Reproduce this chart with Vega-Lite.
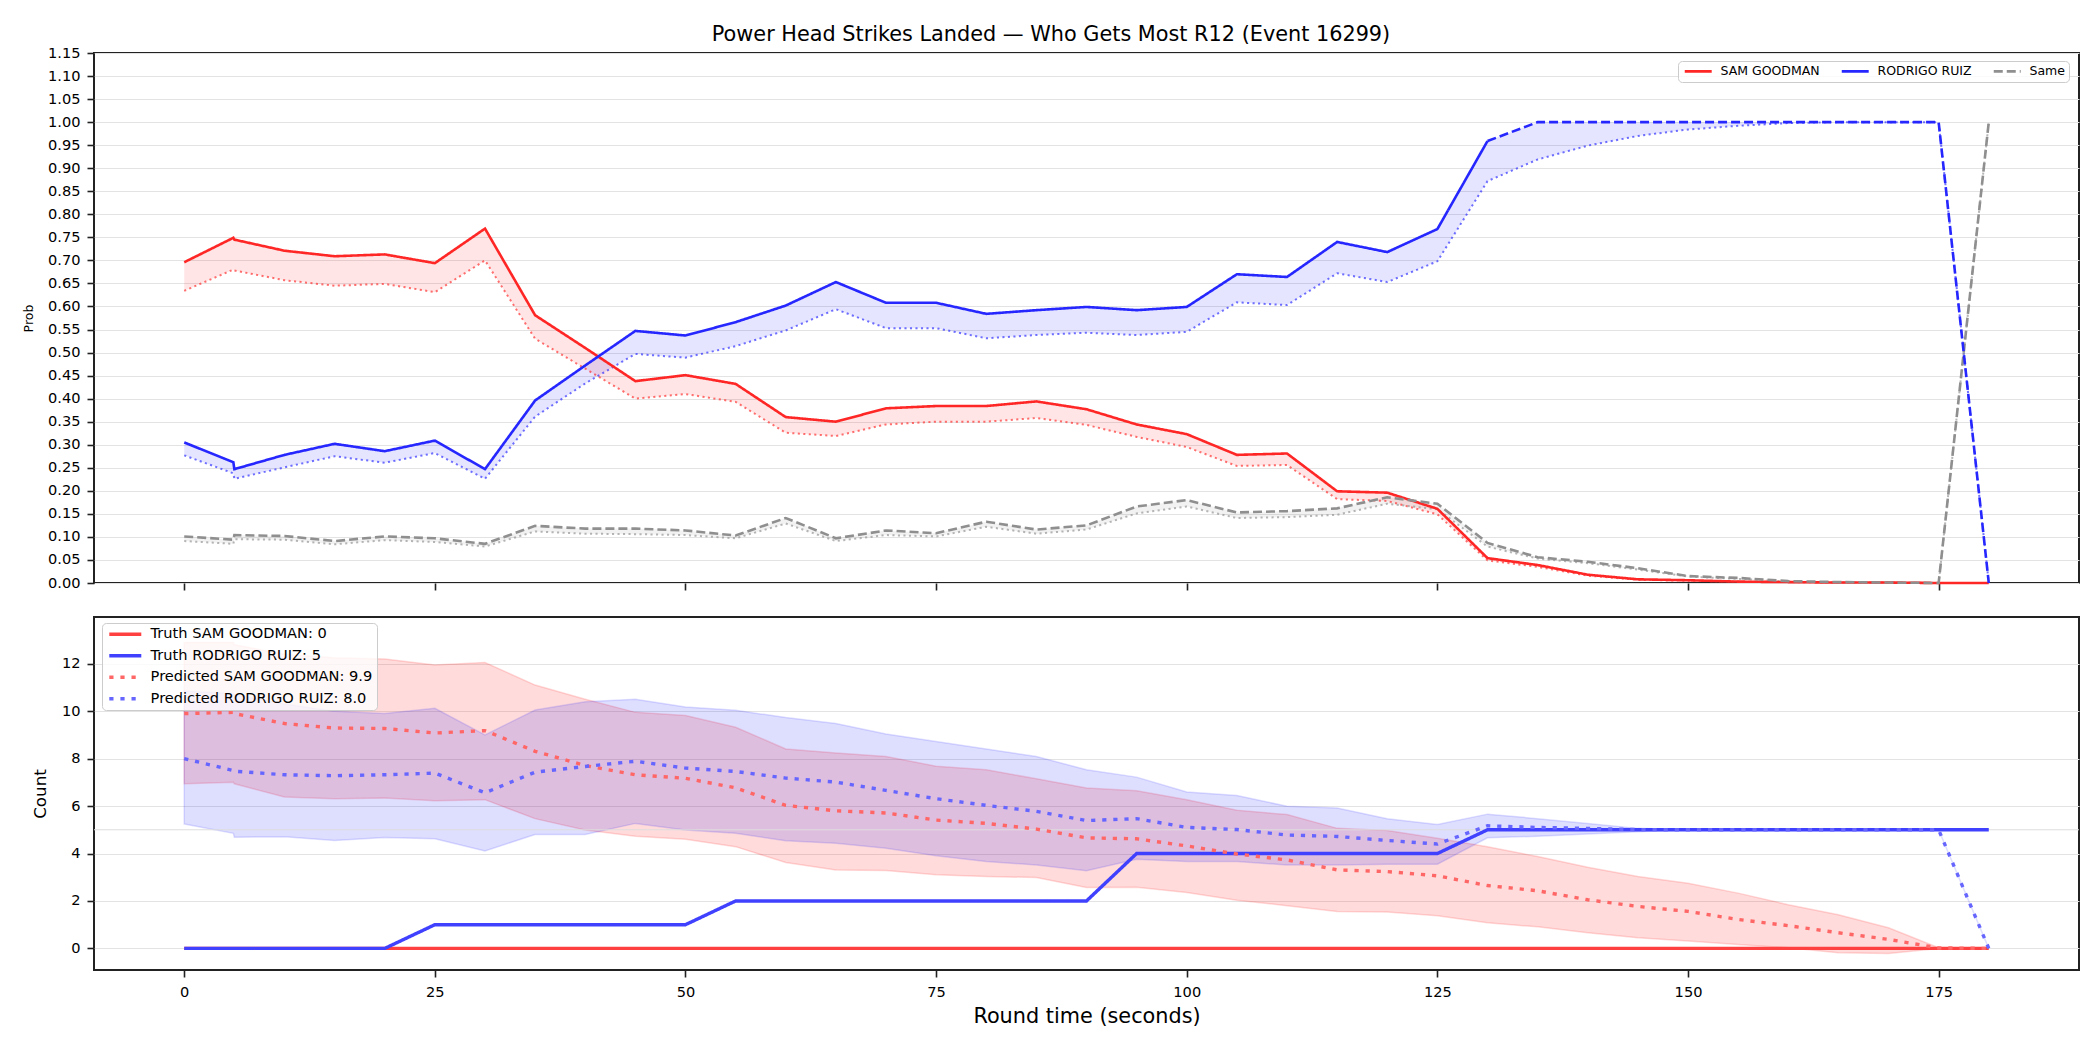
{
  "$schema": "https://vega.github.io/schema/vega-lite/v6.json",
  "padding": {"left": 21, "top": 24, "right": 24, "bottom": 22},
  "title": {
    "text": "Power Head Strikes Landed — Who Gets Most R12 (Event 16299)",
    "font": "DejaVu Sans", "fontSize": 20.8, "fontWeight": "normal", "color": "#000000",
    "anchor": "middle", "offset": -2
  },
  "config": {
    "font": "DejaVu Sans",
    "view": {"stroke": "#222222", "strokeWidth": 2},
    "axis": {
      "domain": false, "tickColor": "#222222", "tickSize": 7, "tickWidth": 1.6,
      "labelFont": "DejaVu Sans", "labelFontSize": 14.6, "labelColor": "#000000", "labelPadding": 7,
      "labelOverlap": false,
      "gridColor": "#e3e3e3", "gridWidth": 1,
      "titleFont": "DejaVu Sans", "titleFontWeight": "normal", "titleColor": "#000000"
    },
    "axisQuantitative": {"labelOverlap": false},
    "legend": {"labelFont": "DejaVu Sans", "labelColor": "#000000", "labelLimit": 600}
  },
  "datasets": {
    "prob": [
      {"t": 0, "who": "SAM GOODMAN", "p": 0.696, "lo": 0.634},
      {"t": 4.9, "who": "SAM GOODMAN", "p": 0.749, "lo": 0.680},
      {"t": 5, "who": "SAM GOODMAN", "p": 0.745, "lo": 0.678},
      {"t": 10, "who": "SAM GOODMAN", "p": 0.721, "lo": 0.657},
      {"t": 15, "who": "SAM GOODMAN", "p": 0.709, "lo": 0.645},
      {"t": 20, "who": "SAM GOODMAN", "p": 0.713, "lo": 0.649},
      {"t": 25, "who": "SAM GOODMAN", "p": 0.694, "lo": 0.631},
      {"t": 30, "who": "SAM GOODMAN", "p": 0.769, "lo": 0.700},
      {"t": 35, "who": "SAM GOODMAN", "p": 0.581, "lo": 0.530},
      {"t": 40, "who": "SAM GOODMAN", "p": 0.510, "lo": 0.465},
      {"t": 45, "who": "SAM GOODMAN", "p": 0.438, "lo": 0.400},
      {"t": 50, "who": "SAM GOODMAN", "p": 0.451, "lo": 0.410},
      {"t": 55, "who": "SAM GOODMAN", "p": 0.432, "lo": 0.393},
      {"t": 60, "who": "SAM GOODMAN", "p": 0.360, "lo": 0.326},
      {"t": 65, "who": "SAM GOODMAN", "p": 0.350, "lo": 0.319},
      {"t": 70, "who": "SAM GOODMAN", "p": 0.379, "lo": 0.344},
      {"t": 75, "who": "SAM GOODMAN", "p": 0.384, "lo": 0.350},
      {"t": 80, "who": "SAM GOODMAN", "p": 0.384, "lo": 0.350},
      {"t": 85, "who": "SAM GOODMAN", "p": 0.394, "lo": 0.358},
      {"t": 90, "who": "SAM GOODMAN", "p": 0.377, "lo": 0.343},
      {"t": 95, "who": "SAM GOODMAN", "p": 0.344, "lo": 0.317},
      {"t": 100, "who": "SAM GOODMAN", "p": 0.323, "lo": 0.295},
      {"t": 105, "who": "SAM GOODMAN", "p": 0.278, "lo": 0.254},
      {"t": 110, "who": "SAM GOODMAN", "p": 0.281, "lo": 0.256},
      {"t": 115, "who": "SAM GOODMAN", "p": 0.199, "lo": 0.182},
      {"t": 120, "who": "SAM GOODMAN", "p": 0.196, "lo": 0.178},
      {"t": 125, "who": "SAM GOODMAN", "p": 0.161, "lo": 0.149},
      {"t": 130, "who": "SAM GOODMAN", "p": 0.054, "lo": 0.049},
      {"t": 135, "who": "SAM GOODMAN", "p": 0.039, "lo": 0.035},
      {"t": 140, "who": "SAM GOODMAN", "p": 0.018, "lo": 0.016},
      {"t": 145, "who": "SAM GOODMAN", "p": 0.008, "lo": 0.007},
      {"t": 150, "who": "SAM GOODMAN", "p": 0.006, "lo": 0.005},
      {"t": 155, "who": "SAM GOODMAN", "p": 0.003, "lo": 0.003},
      {"t": 160, "who": "SAM GOODMAN", "p": 0.002, "lo": 0.002},
      {"t": 165, "who": "SAM GOODMAN", "p": 0.001, "lo": 0.001},
      {"t": 170, "who": "SAM GOODMAN", "p": 0.001, "lo": 0.001},
      {"t": 175, "who": "SAM GOODMAN", "p": 0, "lo": 0},
      {"t": 180, "who": "SAM GOODMAN", "p": 0, "lo": 0},
      {"t": 0, "who": "RODRIGO RUIZ", "p": 0.305, "lo": 0.277},
      {"t": 4.9, "who": "RODRIGO RUIZ", "p": 0.262, "lo": 0.238},
      {"t": 5, "who": "RODRIGO RUIZ", "p": 0.247, "lo": 0.226},
      {"t": 10, "who": "RODRIGO RUIZ", "p": 0.278, "lo": 0.251},
      {"t": 15, "who": "RODRIGO RUIZ", "p": 0.302, "lo": 0.275},
      {"t": 20, "who": "RODRIGO RUIZ", "p": 0.286, "lo": 0.261},
      {"t": 25, "who": "RODRIGO RUIZ", "p": 0.309, "lo": 0.282},
      {"t": 30, "who": "RODRIGO RUIZ", "p": 0.247, "lo": 0.226},
      {"t": 35, "who": "RODRIGO RUIZ", "p": 0.396, "lo": 0.361},
      {"t": 40, "who": "RODRIGO RUIZ", "p": 0.472, "lo": 0.433},
      {"t": 45, "who": "RODRIGO RUIZ", "p": 0.547, "lo": 0.497},
      {"t": 50, "who": "RODRIGO RUIZ", "p": 0.537, "lo": 0.489},
      {"t": 55, "who": "RODRIGO RUIZ", "p": 0.566, "lo": 0.514},
      {"t": 60, "who": "RODRIGO RUIZ", "p": 0.602, "lo": 0.548},
      {"t": 65, "who": "RODRIGO RUIZ", "p": 0.653, "lo": 0.594},
      {"t": 70, "who": "RODRIGO RUIZ", "p": 0.608, "lo": 0.553},
      {"t": 75, "who": "RODRIGO RUIZ", "p": 0.608, "lo": 0.553},
      {"t": 80, "who": "RODRIGO RUIZ", "p": 0.584, "lo": 0.531},
      {"t": 85, "who": "RODRIGO RUIZ", "p": 0.592, "lo": 0.538},
      {"t": 90, "who": "RODRIGO RUIZ", "p": 0.599, "lo": 0.543},
      {"t": 95, "who": "RODRIGO RUIZ", "p": 0.592, "lo": 0.538},
      {"t": 100, "who": "RODRIGO RUIZ", "p": 0.599, "lo": 0.545},
      {"t": 105, "who": "RODRIGO RUIZ", "p": 0.670, "lo": 0.609},
      {"t": 110, "who": "RODRIGO RUIZ", "p": 0.664, "lo": 0.603},
      {"t": 115, "who": "RODRIGO RUIZ", "p": 0.740, "lo": 0.672},
      {"t": 120, "who": "RODRIGO RUIZ", "p": 0.718, "lo": 0.653},
      {"t": 125, "who": "RODRIGO RUIZ", "p": 0.768, "lo": 0.698},
      {"t": 130, "who": "RODRIGO RUIZ", "p": 0.959, "lo": 0.872},
      {"t": 135, "who": "RODRIGO RUIZ", "p": 1, "lo": 0.919},
      {"t": 140, "who": "RODRIGO RUIZ", "p": 1, "lo": 0.949},
      {"t": 145, "who": "RODRIGO RUIZ", "p": 1, "lo": 0.970},
      {"t": 150, "who": "RODRIGO RUIZ", "p": 1, "lo": 0.984},
      {"t": 155, "who": "RODRIGO RUIZ", "p": 1, "lo": 0.992},
      {"t": 160, "who": "RODRIGO RUIZ", "p": 1, "lo": 0.998},
      {"t": 165, "who": "RODRIGO RUIZ", "p": 1, "lo": 1},
      {"t": 170, "who": "RODRIGO RUIZ", "p": 1, "lo": 1},
      {"t": 175, "who": "RODRIGO RUIZ", "p": 1, "lo": 1},
      {"t": 180, "who": "RODRIGO RUIZ", "p": 0, "lo": 0},
      {"t": 0, "who": "Same", "p": 0.101, "lo": 0.091},
      {"t": 4.9, "who": "Same", "p": 0.094, "lo": 0.085},
      {"t": 5, "who": "Same", "p": 0.104, "lo": 0.095},
      {"t": 10, "who": "Same", "p": 0.102, "lo": 0.094},
      {"t": 15, "who": "Same", "p": 0.091, "lo": 0.084},
      {"t": 20, "who": "Same", "p": 0.101, "lo": 0.093},
      {"t": 25, "who": "Same", "p": 0.097, "lo": 0.089},
      {"t": 30, "who": "Same", "p": 0.085, "lo": 0.079},
      {"t": 35, "who": "Same", "p": 0.124, "lo": 0.112},
      {"t": 40, "who": "Same", "p": 0.118, "lo": 0.107},
      {"t": 45, "who": "Same", "p": 0.118, "lo": 0.106},
      {"t": 50, "who": "Same", "p": 0.114, "lo": 0.104},
      {"t": 55, "who": "Same", "p": 0.103, "lo": 0.097},
      {"t": 60, "who": "Same", "p": 0.141, "lo": 0.129},
      {"t": 65, "who": "Same", "p": 0.097, "lo": 0.091},
      {"t": 70, "who": "Same", "p": 0.114, "lo": 0.104},
      {"t": 75, "who": "Same", "p": 0.108, "lo": 0.101},
      {"t": 80, "who": "Same", "p": 0.133, "lo": 0.122},
      {"t": 85, "who": "Same", "p": 0.116, "lo": 0.107},
      {"t": 90, "who": "Same", "p": 0.125, "lo": 0.116},
      {"t": 95, "who": "Same", "p": 0.166, "lo": 0.151},
      {"t": 100, "who": "Same", "p": 0.180, "lo": 0.166},
      {"t": 105, "who": "Same", "p": 0.153, "lo": 0.141},
      {"t": 110, "who": "Same", "p": 0.156, "lo": 0.143},
      {"t": 115, "who": "Same", "p": 0.162, "lo": 0.148},
      {"t": 120, "who": "Same", "p": 0.186, "lo": 0.172},
      {"t": 125, "who": "Same", "p": 0.172, "lo": 0.160},
      {"t": 130, "who": "Same", "p": 0.087, "lo": 0.079},
      {"t": 135, "who": "Same", "p": 0.056, "lo": 0.053},
      {"t": 140, "who": "Same", "p": 0.046, "lo": 0.043},
      {"t": 145, "who": "Same", "p": 0.032, "lo": 0.029},
      {"t": 150, "who": "Same", "p": 0.015, "lo": 0.014},
      {"t": 155, "who": "Same", "p": 0.011, "lo": 0.009},
      {"t": 160, "who": "Same", "p": 0.004, "lo": 0.003},
      {"t": 165, "who": "Same", "p": 0.002, "lo": 0.001},
      {"t": 170, "who": "Same", "p": 0.001, "lo": 0.001},
      {"t": 175, "who": "Same", "p": 0, "lo": 0},
      {"t": 180, "who": "Same", "p": 1, "lo": 1}
    ],
    "band": [
      {"t": 0, "who": "SAM GOODMAN", "lo": 6.94, "hi": 12.9},
      {"t": 4.9, "who": "SAM GOODMAN", "lo": 7.0, "hi": 12.9},
      {"t": 5, "who": "SAM GOODMAN", "lo": 6.94, "hi": 12.8},
      {"t": 10, "who": "SAM GOODMAN", "lo": 6.38, "hi": 12.4},
      {"t": 15, "who": "SAM GOODMAN", "lo": 6.31, "hi": 12.25},
      {"t": 20, "who": "SAM GOODMAN", "lo": 6.34, "hi": 12.2},
      {"t": 25, "who": "SAM GOODMAN", "lo": 6.22, "hi": 11.95},
      {"t": 30, "who": "SAM GOODMAN", "lo": 6.27, "hi": 12.05},
      {"t": 35, "who": "SAM GOODMAN", "lo": 5.47, "hi": 11.1},
      {"t": 40, "who": "SAM GOODMAN", "lo": 4.99, "hi": 10.5},
      {"t": 45, "who": "SAM GOODMAN", "lo": 4.73, "hi": 9.95},
      {"t": 50, "who": "SAM GOODMAN", "lo": 4.6, "hi": 9.82},
      {"t": 55, "who": "SAM GOODMAN", "lo": 4.29, "hi": 9.32},
      {"t": 60, "who": "SAM GOODMAN", "lo": 3.62, "hi": 8.41},
      {"t": 65, "who": "SAM GOODMAN", "lo": 3.31, "hi": 8.24},
      {"t": 70, "who": "SAM GOODMAN", "lo": 3.28, "hi": 8.09},
      {"t": 75, "who": "SAM GOODMAN", "lo": 3.10, "hi": 7.68},
      {"t": 80, "who": "SAM GOODMAN", "lo": 3.03, "hi": 7.53},
      {"t": 85, "who": "SAM GOODMAN", "lo": 2.99, "hi": 7.15},
      {"t": 90, "who": "SAM GOODMAN", "lo": 2.57, "hi": 6.76},
      {"t": 95, "who": "SAM GOODMAN", "lo": 2.58, "hi": 6.65},
      {"t": 100, "who": "SAM GOODMAN", "lo": 2.36, "hi": 6.27},
      {"t": 105, "who": "SAM GOODMAN", "lo": 2.03, "hi": 5.82},
      {"t": 110, "who": "SAM GOODMAN", "lo": 1.80, "hi": 5.64},
      {"t": 115, "who": "SAM GOODMAN", "lo": 1.56, "hi": 5.06},
      {"t": 120, "who": "SAM GOODMAN", "lo": 1.54, "hi": 4.97},
      {"t": 125, "who": "SAM GOODMAN", "lo": 1.38, "hi": 4.64},
      {"t": 130, "who": "SAM GOODMAN", "lo": 1.08, "hi": 4.29},
      {"t": 135, "who": "SAM GOODMAN", "lo": 0.91, "hi": 3.87},
      {"t": 140, "who": "SAM GOODMAN", "lo": 0.66, "hi": 3.42},
      {"t": 145, "who": "SAM GOODMAN", "lo": 0.45, "hi": 3.03},
      {"t": 150, "who": "SAM GOODMAN", "lo": 0.31, "hi": 2.75},
      {"t": 155, "who": "SAM GOODMAN", "lo": 0.17, "hi": 2.33},
      {"t": 160, "who": "SAM GOODMAN", "lo": 0.03, "hi": 1.84},
      {"t": 165, "who": "SAM GOODMAN", "lo": -0.18, "hi": 1.42},
      {"t": 170, "who": "SAM GOODMAN", "lo": -0.21, "hi": 0.87},
      {"t": 175, "who": "SAM GOODMAN", "lo": 0, "hi": 0.03},
      {"t": 180, "who": "SAM GOODMAN", "lo": 0, "hi": 0},
      {"t": 0, "who": "RODRIGO RUIZ", "lo": 5.24, "hi": 10.85},
      {"t": 4.9, "who": "RODRIGO RUIZ", "lo": 4.85, "hi": 10.75},
      {"t": 5, "who": "RODRIGO RUIZ", "lo": 4.69, "hi": 10.7},
      {"t": 10, "who": "RODRIGO RUIZ", "lo": 4.71, "hi": 10.3},
      {"t": 15, "who": "RODRIGO RUIZ", "lo": 4.55, "hi": 10.0},
      {"t": 20, "who": "RODRIGO RUIZ", "lo": 4.68, "hi": 9.9},
      {"t": 25, "who": "RODRIGO RUIZ", "lo": 4.62, "hi": 10.12},
      {"t": 30, "who": "RODRIGO RUIZ", "lo": 4.11, "hi": 9.0},
      {"t": 35, "who": "RODRIGO RUIZ", "lo": 4.8, "hi": 10.05},
      {"t": 40, "who": "RODRIGO RUIZ", "lo": 4.8, "hi": 10.4},
      {"t": 45, "who": "RODRIGO RUIZ", "lo": 5.27, "hi": 10.5},
      {"t": 50, "who": "RODRIGO RUIZ", "lo": 4.99, "hi": 10.18},
      {"t": 55, "who": "RODRIGO RUIZ", "lo": 4.85, "hi": 10.04},
      {"t": 60, "who": "RODRIGO RUIZ", "lo": 4.54, "hi": 9.73},
      {"t": 65, "who": "RODRIGO RUIZ", "lo": 4.43, "hi": 9.48},
      {"t": 70, "who": "RODRIGO RUIZ", "lo": 4.22, "hi": 9.04},
      {"t": 75, "who": "RODRIGO RUIZ", "lo": 3.91, "hi": 8.72},
      {"t": 80, "who": "RODRIGO RUIZ", "lo": 3.66, "hi": 8.41},
      {"t": 85, "who": "RODRIGO RUIZ", "lo": 3.52, "hi": 8.09},
      {"t": 90, "who": "RODRIGO RUIZ", "lo": 3.27, "hi": 7.53},
      {"t": 95, "who": "RODRIGO RUIZ", "lo": 3.76, "hi": 7.22},
      {"t": 100, "who": "RODRIGO RUIZ", "lo": 3.66, "hi": 6.59},
      {"t": 105, "who": "RODRIGO RUIZ", "lo": 3.66, "hi": 6.45},
      {"t": 110, "who": "RODRIGO RUIZ", "lo": 3.52, "hi": 5.99},
      {"t": 115, "who": "RODRIGO RUIZ", "lo": 3.52, "hi": 5.92},
      {"t": 120, "who": "RODRIGO RUIZ", "lo": 3.55, "hi": 5.47},
      {"t": 125, "who": "RODRIGO RUIZ", "lo": 3.55, "hi": 5.22},
      {"t": 130, "who": "RODRIGO RUIZ", "lo": 4.66, "hi": 5.66},
      {"t": 135, "who": "RODRIGO RUIZ", "lo": 4.73, "hi": 5.47},
      {"t": 140, "who": "RODRIGO RUIZ", "lo": 4.82, "hi": 5.27},
      {"t": 145, "who": "RODRIGO RUIZ", "lo": 4.92, "hi": 5.06},
      {"t": 150, "who": "RODRIGO RUIZ", "lo": 5, "hi": 5},
      {"t": 155, "who": "RODRIGO RUIZ", "lo": 5, "hi": 5},
      {"t": 160, "who": "RODRIGO RUIZ", "lo": 5, "hi": 5},
      {"t": 165, "who": "RODRIGO RUIZ", "lo": 5, "hi": 5},
      {"t": 170, "who": "RODRIGO RUIZ", "lo": 5, "hi": 5},
      {"t": 175, "who": "RODRIGO RUIZ", "lo": 5, "hi": 5},
      {"t": 180, "who": "RODRIGO RUIZ", "lo": 0, "hi": 0}
    ],
    "count": [
      {"t": 0, "s": "Truth SAM GOODMAN: 0", "v": 0},
      {"t": 4.9, "s": "Truth SAM GOODMAN: 0", "v": 0},
      {"t": 5, "s": "Truth SAM GOODMAN: 0", "v": 0},
      {"t": 10, "s": "Truth SAM GOODMAN: 0", "v": 0},
      {"t": 15, "s": "Truth SAM GOODMAN: 0", "v": 0},
      {"t": 20, "s": "Truth SAM GOODMAN: 0", "v": 0},
      {"t": 25, "s": "Truth SAM GOODMAN: 0", "v": 0},
      {"t": 30, "s": "Truth SAM GOODMAN: 0", "v": 0},
      {"t": 35, "s": "Truth SAM GOODMAN: 0", "v": 0},
      {"t": 40, "s": "Truth SAM GOODMAN: 0", "v": 0},
      {"t": 45, "s": "Truth SAM GOODMAN: 0", "v": 0},
      {"t": 50, "s": "Truth SAM GOODMAN: 0", "v": 0},
      {"t": 55, "s": "Truth SAM GOODMAN: 0", "v": 0},
      {"t": 60, "s": "Truth SAM GOODMAN: 0", "v": 0},
      {"t": 65, "s": "Truth SAM GOODMAN: 0", "v": 0},
      {"t": 70, "s": "Truth SAM GOODMAN: 0", "v": 0},
      {"t": 75, "s": "Truth SAM GOODMAN: 0", "v": 0},
      {"t": 80, "s": "Truth SAM GOODMAN: 0", "v": 0},
      {"t": 85, "s": "Truth SAM GOODMAN: 0", "v": 0},
      {"t": 90, "s": "Truth SAM GOODMAN: 0", "v": 0},
      {"t": 95, "s": "Truth SAM GOODMAN: 0", "v": 0},
      {"t": 100, "s": "Truth SAM GOODMAN: 0", "v": 0},
      {"t": 105, "s": "Truth SAM GOODMAN: 0", "v": 0},
      {"t": 110, "s": "Truth SAM GOODMAN: 0", "v": 0},
      {"t": 115, "s": "Truth SAM GOODMAN: 0", "v": 0},
      {"t": 120, "s": "Truth SAM GOODMAN: 0", "v": 0},
      {"t": 125, "s": "Truth SAM GOODMAN: 0", "v": 0},
      {"t": 130, "s": "Truth SAM GOODMAN: 0", "v": 0},
      {"t": 135, "s": "Truth SAM GOODMAN: 0", "v": 0},
      {"t": 140, "s": "Truth SAM GOODMAN: 0", "v": 0},
      {"t": 145, "s": "Truth SAM GOODMAN: 0", "v": 0},
      {"t": 150, "s": "Truth SAM GOODMAN: 0", "v": 0},
      {"t": 155, "s": "Truth SAM GOODMAN: 0", "v": 0},
      {"t": 160, "s": "Truth SAM GOODMAN: 0", "v": 0},
      {"t": 165, "s": "Truth SAM GOODMAN: 0", "v": 0},
      {"t": 170, "s": "Truth SAM GOODMAN: 0", "v": 0},
      {"t": 175, "s": "Truth SAM GOODMAN: 0", "v": 0},
      {"t": 180, "s": "Truth SAM GOODMAN: 0", "v": 0},
      {"t": 0, "s": "Truth RODRIGO RUIZ: 5", "v": 0},
      {"t": 4.9, "s": "Truth RODRIGO RUIZ: 5", "v": 0},
      {"t": 5, "s": "Truth RODRIGO RUIZ: 5", "v": 0},
      {"t": 10, "s": "Truth RODRIGO RUIZ: 5", "v": 0},
      {"t": 15, "s": "Truth RODRIGO RUIZ: 5", "v": 0},
      {"t": 20, "s": "Truth RODRIGO RUIZ: 5", "v": 0},
      {"t": 25, "s": "Truth RODRIGO RUIZ: 5", "v": 1},
      {"t": 30, "s": "Truth RODRIGO RUIZ: 5", "v": 1},
      {"t": 35, "s": "Truth RODRIGO RUIZ: 5", "v": 1},
      {"t": 40, "s": "Truth RODRIGO RUIZ: 5", "v": 1},
      {"t": 45, "s": "Truth RODRIGO RUIZ: 5", "v": 1},
      {"t": 50, "s": "Truth RODRIGO RUIZ: 5", "v": 1},
      {"t": 55, "s": "Truth RODRIGO RUIZ: 5", "v": 2},
      {"t": 60, "s": "Truth RODRIGO RUIZ: 5", "v": 2},
      {"t": 65, "s": "Truth RODRIGO RUIZ: 5", "v": 2},
      {"t": 70, "s": "Truth RODRIGO RUIZ: 5", "v": 2},
      {"t": 75, "s": "Truth RODRIGO RUIZ: 5", "v": 2},
      {"t": 80, "s": "Truth RODRIGO RUIZ: 5", "v": 2},
      {"t": 85, "s": "Truth RODRIGO RUIZ: 5", "v": 2},
      {"t": 90, "s": "Truth RODRIGO RUIZ: 5", "v": 2},
      {"t": 95, "s": "Truth RODRIGO RUIZ: 5", "v": 4},
      {"t": 100, "s": "Truth RODRIGO RUIZ: 5", "v": 4},
      {"t": 105, "s": "Truth RODRIGO RUIZ: 5", "v": 4},
      {"t": 110, "s": "Truth RODRIGO RUIZ: 5", "v": 4},
      {"t": 115, "s": "Truth RODRIGO RUIZ: 5", "v": 4},
      {"t": 120, "s": "Truth RODRIGO RUIZ: 5", "v": 4},
      {"t": 125, "s": "Truth RODRIGO RUIZ: 5", "v": 4},
      {"t": 130, "s": "Truth RODRIGO RUIZ: 5", "v": 5},
      {"t": 135, "s": "Truth RODRIGO RUIZ: 5", "v": 5},
      {"t": 140, "s": "Truth RODRIGO RUIZ: 5", "v": 5},
      {"t": 145, "s": "Truth RODRIGO RUIZ: 5", "v": 5},
      {"t": 150, "s": "Truth RODRIGO RUIZ: 5", "v": 5},
      {"t": 155, "s": "Truth RODRIGO RUIZ: 5", "v": 5},
      {"t": 160, "s": "Truth RODRIGO RUIZ: 5", "v": 5},
      {"t": 165, "s": "Truth RODRIGO RUIZ: 5", "v": 5},
      {"t": 170, "s": "Truth RODRIGO RUIZ: 5", "v": 5},
      {"t": 175, "s": "Truth RODRIGO RUIZ: 5", "v": 5},
      {"t": 180, "s": "Truth RODRIGO RUIZ: 5", "v": 5},
      {"t": 0, "s": "Predicted SAM GOODMAN: 9.9", "v": 9.9},
      {"t": 4.9, "s": "Predicted SAM GOODMAN: 9.9", "v": 9.95},
      {"t": 5, "s": "Predicted SAM GOODMAN: 9.9", "v": 9.9},
      {"t": 10, "s": "Predicted SAM GOODMAN: 9.9", "v": 9.48},
      {"t": 15, "s": "Predicted SAM GOODMAN: 9.9", "v": 9.29},
      {"t": 20, "s": "Predicted SAM GOODMAN: 9.9", "v": 9.27},
      {"t": 25, "s": "Predicted SAM GOODMAN: 9.9", "v": 9.08},
      {"t": 30, "s": "Predicted SAM GOODMAN: 9.9", "v": 9.18},
      {"t": 35, "s": "Predicted SAM GOODMAN: 9.9", "v": 8.31},
      {"t": 40, "s": "Predicted SAM GOODMAN: 9.9", "v": 7.71},
      {"t": 45, "s": "Predicted SAM GOODMAN: 9.9", "v": 7.32},
      {"t": 50, "s": "Predicted SAM GOODMAN: 9.9", "v": 7.17},
      {"t": 55, "s": "Predicted SAM GOODMAN: 9.9", "v": 6.77},
      {"t": 60, "s": "Predicted SAM GOODMAN: 9.9", "v": 6.03},
      {"t": 65, "s": "Predicted SAM GOODMAN: 9.9", "v": 5.80},
      {"t": 70, "s": "Predicted SAM GOODMAN: 9.9", "v": 5.71},
      {"t": 75, "s": "Predicted SAM GOODMAN: 9.9", "v": 5.41},
      {"t": 80, "s": "Predicted SAM GOODMAN: 9.9", "v": 5.27},
      {"t": 85, "s": "Predicted SAM GOODMAN: 9.9", "v": 5.03},
      {"t": 90, "s": "Predicted SAM GOODMAN: 9.9", "v": 4.66},
      {"t": 95, "s": "Predicted SAM GOODMAN: 9.9", "v": 4.62},
      {"t": 100, "s": "Predicted SAM GOODMAN: 9.9", "v": 4.32},
      {"t": 105, "s": "Predicted SAM GOODMAN: 9.9", "v": 3.98},
      {"t": 110, "s": "Predicted SAM GOODMAN: 9.9", "v": 3.73},
      {"t": 115, "s": "Predicted SAM GOODMAN: 9.9", "v": 3.31},
      {"t": 120, "s": "Predicted SAM GOODMAN: 9.9", "v": 3.24},
      {"t": 125, "s": "Predicted SAM GOODMAN: 9.9", "v": 3.06},
      {"t": 130, "s": "Predicted SAM GOODMAN: 9.9", "v": 2.65},
      {"t": 135, "s": "Predicted SAM GOODMAN: 9.9", "v": 2.43},
      {"t": 140, "s": "Predicted SAM GOODMAN: 9.9", "v": 2.05},
      {"t": 145, "s": "Predicted SAM GOODMAN: 9.9", "v": 1.77},
      {"t": 150, "s": "Predicted SAM GOODMAN: 9.9", "v": 1.56},
      {"t": 155, "s": "Predicted SAM GOODMAN: 9.9", "v": 1.22},
      {"t": 160, "s": "Predicted SAM GOODMAN: 9.9", "v": 0.96},
      {"t": 165, "s": "Predicted SAM GOODMAN: 9.9", "v": 0.66},
      {"t": 170, "s": "Predicted SAM GOODMAN: 9.9", "v": 0.38},
      {"t": 175, "s": "Predicted SAM GOODMAN: 9.9", "v": 0.02},
      {"t": 180, "s": "Predicted SAM GOODMAN: 9.9", "v": 0},
      {"t": 0, "s": "Predicted RODRIGO RUIZ: 8.0", "v": 8.0},
      {"t": 4.9, "s": "Predicted RODRIGO RUIZ: 8.0", "v": 7.5},
      {"t": 5, "s": "Predicted RODRIGO RUIZ: 8.0", "v": 7.47},
      {"t": 10, "s": "Predicted RODRIGO RUIZ: 8.0", "v": 7.32},
      {"t": 15, "s": "Predicted RODRIGO RUIZ: 8.0", "v": 7.28},
      {"t": 20, "s": "Predicted RODRIGO RUIZ: 8.0", "v": 7.32},
      {"t": 25, "s": "Predicted RODRIGO RUIZ: 8.0", "v": 7.39},
      {"t": 30, "s": "Predicted RODRIGO RUIZ: 8.0", "v": 6.56},
      {"t": 35, "s": "Predicted RODRIGO RUIZ: 8.0", "v": 7.43},
      {"t": 40, "s": "Predicted RODRIGO RUIZ: 8.0", "v": 7.67},
      {"t": 45, "s": "Predicted RODRIGO RUIZ: 8.0", "v": 7.89},
      {"t": 50, "s": "Predicted RODRIGO RUIZ: 8.0", "v": 7.6},
      {"t": 55, "s": "Predicted RODRIGO RUIZ: 8.0", "v": 7.46},
      {"t": 60, "s": "Predicted RODRIGO RUIZ: 8.0", "v": 7.18},
      {"t": 65, "s": "Predicted RODRIGO RUIZ: 8.0", "v": 7.01},
      {"t": 70, "s": "Predicted RODRIGO RUIZ: 8.0", "v": 6.66},
      {"t": 75, "s": "Predicted RODRIGO RUIZ: 8.0", "v": 6.31},
      {"t": 80, "s": "Predicted RODRIGO RUIZ: 8.0", "v": 6.03},
      {"t": 85, "s": "Predicted RODRIGO RUIZ: 8.0", "v": 5.78},
      {"t": 90, "s": "Predicted RODRIGO RUIZ: 8.0", "v": 5.39},
      {"t": 95, "s": "Predicted RODRIGO RUIZ: 8.0", "v": 5.47},
      {"t": 100, "s": "Predicted RODRIGO RUIZ: 8.0", "v": 5.10},
      {"t": 105, "s": "Predicted RODRIGO RUIZ: 8.0", "v": 5.01},
      {"t": 110, "s": "Predicted RODRIGO RUIZ: 8.0", "v": 4.78},
      {"t": 115, "s": "Predicted RODRIGO RUIZ: 8.0", "v": 4.72},
      {"t": 120, "s": "Predicted RODRIGO RUIZ: 8.0", "v": 4.55},
      {"t": 125, "s": "Predicted RODRIGO RUIZ: 8.0", "v": 4.40},
      {"t": 130, "s": "Predicted RODRIGO RUIZ: 8.0", "v": 5.17},
      {"t": 135, "s": "Predicted RODRIGO RUIZ: 8.0", "v": 5.10},
      {"t": 140, "s": "Predicted RODRIGO RUIZ: 8.0", "v": 5.06},
      {"t": 145, "s": "Predicted RODRIGO RUIZ: 8.0", "v": 5.01},
      {"t": 150, "s": "Predicted RODRIGO RUIZ: 8.0", "v": 5},
      {"t": 155, "s": "Predicted RODRIGO RUIZ: 8.0", "v": 5},
      {"t": 160, "s": "Predicted RODRIGO RUIZ: 8.0", "v": 5},
      {"t": 165, "s": "Predicted RODRIGO RUIZ: 8.0", "v": 5},
      {"t": 170, "s": "Predicted RODRIGO RUIZ: 8.0", "v": 5},
      {"t": 175, "s": "Predicted RODRIGO RUIZ: 8.0", "v": 5},
      {"t": 180, "s": "Predicted RODRIGO RUIZ: 8.0", "v": 0}
    ],
    "ref": [{"v": 5}]
  },
  "spacing": 34,
  "bounds": "flush",
  "resolve": {
    "scale": {"color": "independent", "strokeDash": "independent", "x": "independent", "y": "independent"},
    "legend": {"color": "independent", "strokeDash": "independent"},
    "axis": {"x": "independent", "y": "independent"}
  },
  "vconcat": [
    {
      "width": 1985,
      "height": 530,
      "encoding": {
        "x": {
          "field": "t", "type": "quantitative",
          "scale": {"domain": [-9, 189], "nice": false, "zero": false},
          "axis": {"values": [0, 25, 50, 75, 100, 125, 150, 175], "labels": false, "grid": false, "title": null}
        }
      },
      "layer": [
        {
          "data": {"name": "prob"},
          "mark": {"type": "area", "opacity": 0.1},
          "encoding": {
            "y": {
              "field": "lo", "type": "quantitative",
              "scale": {"domain": [0, 1.15], "nice": false, "zero": false},
              "axis": {
                "values": [0, 0.05, 0.1, 0.15, 0.2, 0.25, 0.3, 0.35, 0.4, 0.45, 0.5, 0.55, 0.6, 0.65, 0.7, 0.75, 0.8, 0.85, 0.9, 0.95, 1, 1.05, 1.1, 1.15],
                "format": ".2f", "labelOverlap": false, "labelFlush": false, "labelBound": false,
                "title": "Prob", "titleFontSize": 12.5, "titlePadding": 12, "grid": true
              }
            },
            "y2": {"field": "p"},
            "fill": {
              "field": "who", "type": "nominal",
              "scale": {"domain": ["SAM GOODMAN", "RODRIGO RUIZ", "Same"], "range": ["#ff0000", "#0000ff", "#808080"]},
              "legend": null
            }
          }
        },
        {
          "data": {"name": "prob"},
          "mark": {"type": "line", "strokeWidth": 2, "strokeDash": [2.1, 3.4], "opacity": 0.65},
          "encoding": {
            "y": {
              "field": "lo", "type": "quantitative",
              "axis": {
                "values": [0, 0.05, 0.1, 0.15, 0.2, 0.25, 0.3, 0.35, 0.4, 0.45, 0.5, 0.55, 0.6, 0.65, 0.7, 0.75, 0.8, 0.85, 0.9, 0.95, 1, 1.05, 1.1, 1.15],
                "format": ".2f", "labelOverlap": false, "labelFlush": false, "labelBound": false,
                "title": "Prob", "titleFontSize": 12.5, "titlePadding": 12, "grid": true
              }
            },
            "stroke": {
              "field": "who", "type": "nominal",
              "scale": {"domain": ["SAM GOODMAN", "RODRIGO RUIZ", "Same"], "range": ["#ff2626", "#2626ff", "#8f8f8f"]},
              "legend": null
            }
          }
        },
        {
          "data": {"name": "prob"},
          "transform": [{"filter": "datum.who != 'RODRIGO RUIZ' || datum.t <= 130"}],
          "mark": {"type": "line", "strokeWidth": 2.6},
          "encoding": {
            "y": {
              "field": "p", "type": "quantitative",
              "axis": {
                "values": [0, 0.05, 0.1, 0.15, 0.2, 0.25, 0.3, 0.35, 0.4, 0.45, 0.5, 0.55, 0.6, 0.65, 0.7, 0.75, 0.8, 0.85, 0.9, 0.95, 1, 1.05, 1.1, 1.15],
                "format": ".2f", "labelOverlap": false, "labelFlush": false, "labelBound": false,
                "title": "Prob", "titleFontSize": 12.5, "titlePadding": 12, "grid": true
              }
            },
            "color": {
              "field": "who", "type": "nominal",
              "scale": {"domain": ["SAM GOODMAN", "RODRIGO RUIZ", "Same"], "range": ["#ff2626", "#2626ff", "#8f8f8f"]},
              "legend": {
                "title": null, "orient": "none", "legendX": 1584, "legendY": 8,
                "direction": "horizontal", "columns": 3, "columnPadding": 16,
                "symbolType": "M-1,0H6.7", "symbolSize": 49, "symbolStrokeWidth": 2.6,
                "labelFontSize": 12.5, "labelOffset": 26, "padding": 4,
                "fillColor": "rgba(255,255,255,0.8)", "strokeColor": "#cccccc", "cornerRadius": 4
              }
            },
            "strokeDash": {
              "field": "who", "type": "nominal",
              "scale": {"domain": ["SAM GOODMAN", "RODRIGO RUIZ", "Same"], "range": [[1, 0], [1, 0], [9, 4]]},
              "legend": {
                "title": null, "orient": "none", "legendX": 1584, "legendY": 8,
                "direction": "horizontal", "columns": 3, "columnPadding": 16,
                "symbolType": "M-1,0H6.7", "symbolSize": 49, "symbolStrokeWidth": 2.6,
                "labelFontSize": 12.5, "labelOffset": 26, "padding": 4,
                "fillColor": "rgba(255,255,255,0.8)", "strokeColor": "#cccccc", "cornerRadius": 4
              }
            }
          }
        },
        {
          "data": {"name": "prob"},
          "transform": [{"filter": "datum.who == 'RODRIGO RUIZ' && datum.t >= 130"}],
          "mark": {"type": "line", "strokeWidth": 2.6, "strokeDash": [9, 4], "color": "#2626ff"},
          "encoding": {
            "y": {
              "field": "p", "type": "quantitative",
              "axis": {
                "values": [0, 0.05, 0.1, 0.15, 0.2, 0.25, 0.3, 0.35, 0.4, 0.45, 0.5, 0.55, 0.6, 0.65, 0.7, 0.75, 0.8, 0.85, 0.9, 0.95, 1, 1.05, 1.1, 1.15],
                "format": ".2f", "labelOverlap": false, "labelFlush": false, "labelBound": false,
                "title": "Prob", "titleFontSize": 12.5, "titlePadding": 12, "grid": true
              }
            }
          }
        }
      ]
    },
    {
      "width": 1985,
      "height": 353,
      "layer": [
        {
          "data": {"name": "band"},
          "transform": [{"filter": "datum.who == 'SAM GOODMAN'"}],
          "mark": {"type": "area", "color": "#ff0000", "fillOpacity": 0.14, "stroke": "#ff0000", "strokeOpacity": 0.15, "strokeWidth": 1.5},
          "encoding": {
            "x": {
              "field": "t", "type": "quantitative",
              "scale": {"domain": [-9, 189], "nice": false, "zero": false},
              "axis": {"values": [0, 25, 50, 75, 100, 125, 150, 175], "grid": false, "title": "Round time (seconds)", "titleFontSize": 20.8, "titlePadding": 8}
            },
            "y": {
              "field": "lo", "type": "quantitative",
              "scale": {"domain": [-0.91, 13.97], "nice": false, "zero": false},
              "axis": {"values": [0, 2, 4, 6, 8, 10, 12], "title": "Count", "titleFontSize": 16.7, "titlePadding": 12, "grid": true}
            },
            "y2": {"field": "hi"}
          }
        },
        {
          "data": {"name": "band"},
          "transform": [{"filter": "datum.who == 'RODRIGO RUIZ'"}],
          "mark": {"type": "area", "color": "#0000ff", "fillOpacity": 0.13, "stroke": "#0000ff", "strokeOpacity": 0.13, "strokeWidth": 1.5},
          "encoding": {
            "x": {"field": "t", "type": "quantitative"},
            "y": {"field": "lo", "type": "quantitative"},
            "y2": {"field": "hi"}
          }
        },
        {
          "data": {"name": "ref"},
          "mark": {"type": "rule", "color": "#dddddd", "strokeWidth": 1},
          "encoding": {"y": {"field": "v", "type": "quantitative"}}
        },
        {
          "data": {"name": "count"},
          "mark": {"type": "line", "strokeWidth": 3.4},
          "encoding": {
            "x": {"field": "t", "type": "quantitative"},
            "y": {"field": "v", "type": "quantitative"},
            "color": {
              "field": "s", "type": "nominal",
              "scale": {
                "domain": ["Truth SAM GOODMAN: 0", "Truth RODRIGO RUIZ: 5", "Predicted SAM GOODMAN: 9.9", "Predicted RODRIGO RUIZ: 8.0"],
                "range": ["#ff4040", "#4040ff", "#ff6666", "#6666ff"]
              },
              "legend": {
                "title": null, "orient": "none", "legendX": 8, "legendY": 6,
                "symbolType": "M-1,0H7", "symbolSize": 64, "symbolStrokeWidth": 3.4,
                "labelFontSize": 14.6, "labelOffset": 30, "rowPadding": 5.5, "padding": 4,
                "fillColor": "rgba(255,255,255,0.8)", "strokeColor": "#cccccc", "cornerRadius": 4
              }
            },
            "strokeDash": {
              "field": "s", "type": "nominal",
              "scale": {
                "domain": ["Truth SAM GOODMAN: 0", "Truth RODRIGO RUIZ: 5", "Predicted SAM GOODMAN: 9.9", "Predicted RODRIGO RUIZ: 8.0"],
                "range": [[1, 0], [1, 0], [4.2, 6.9], [4.2, 6.9]]
              },
              "legend": {
                "title": null, "orient": "none", "legendX": 8, "legendY": 6,
                "symbolType": "M-1,0H7", "symbolSize": 64, "symbolStrokeWidth": 3.4,
                "labelFontSize": 14.6, "labelOffset": 30, "rowPadding": 5.5, "padding": 4,
                "fillColor": "rgba(255,255,255,0.8)", "strokeColor": "#cccccc", "cornerRadius": 4
              }
            }
          }
        }
      ]
    }
  ]
}
